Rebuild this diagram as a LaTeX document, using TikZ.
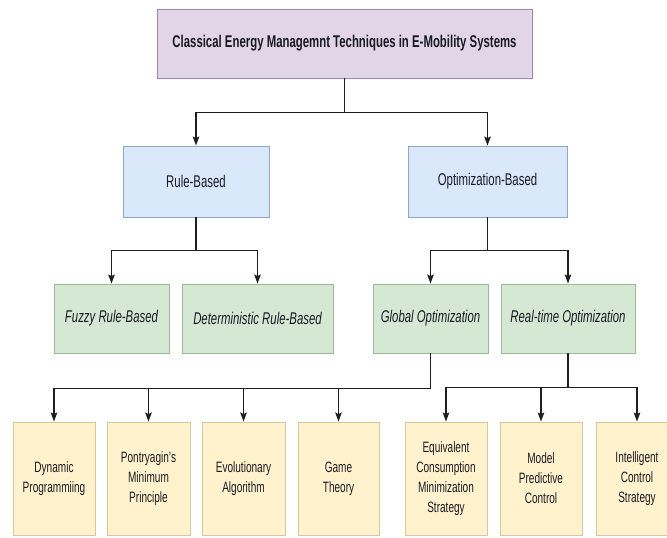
\documentclass[tikz,border=0pt]{standalone}
\usepackage{fontspec}
\setmainfont{Liberation Sans}[FakeStretch=0.67]
\usetikzlibrary{arrows.meta}

\definecolor{purpfill}{HTML}{E1D5E7}
\definecolor{purpline}{HTML}{9A8AA6}
\definecolor{bluefill}{HTML}{DAE8FC}
\definecolor{blueline}{HTML}{8EA6C8}
\definecolor{greenfill}{HTML}{D5E8D4}
\definecolor{greenline}{HTML}{9DB894}
\definecolor{yellfill}{HTML}{FFF2CC}
\definecolor{yellline}{HTML}{D8C79A}
\definecolor{inkc}{HTML}{1E1E1E}
\definecolor{textc}{HTML}{1A1A24}

\begin{document}
\begin{tikzpicture}[x=1pt,y=-1pt,
  box/.style={draw, line width=0.9pt, inner sep=0pt, align=center, text=textc},
  rootbox/.style={box, fill=purpfill, draw=purpline,
    font=\fontsize{17}{20}\selectfont\bfseries},
  catbox/.style={box, fill=bluefill, draw=blueline,
    font=\fontsize{17}{20}\selectfont},
  subbox/.style={box, fill=greenfill, draw=greenline,
    font=\fontsize{17}{20}\selectfont\itshape},
  leafbox/.style={box, fill=yellfill, draw=yellline,
    minimum height=113pt, font=\fontsize{15}{20}\selectfont},
  conn/.style={draw=inkc, line width=1.3pt},
  arr/.style={conn, -{Stealth[length=9pt,width=6.5pt,inset=1.5pt]}}
]
\useasboundingbox (0,0) rectangle (667,538);

% root
\node[rootbox, minimum width=375pt, minimum height=69pt] (root) at (344.5,43.5)
  {Classical Energy Managemnt Techniques in E-Mobility Systems};

% first level
\node[catbox, minimum width=146pt, minimum height=71pt] (rule) at (196,181.5) {Rule-Based};
\node[catbox, minimum width=159pt, minimum height=71pt] (opt) at (487.5,181.5) {Optimization-Based};

% second level
\node[subbox, minimum width=115pt, minimum height=69pt] (fuzzy) at (111.5,318.5) {Fuzzy Rule-Based};
\node[subbox, minimum width=151pt, minimum height=69pt] (det) at (257.5,318.5) {Deterministic Rule-Based};
\node[subbox, minimum width=115pt, minimum height=69pt] (glob) at (430.5,318.5) {Global Optimization};
\node[subbox, minimum width=134pt, minimum height=69pt] (real) at (568,318.5) {Real-time Optimization};

% leaves
\node[leafbox, minimum width=82pt] (dyn) at (54,478.5) {Dynamic\\Programmiing};
\node[leafbox, minimum width=83pt] (pon) at (148.5,478.5) {Pontryagin's\\Minimum\\Principle};
\node[leafbox, minimum width=83pt] (evo) at (243.5,478.5) {Evolutionary\\Algorithm};
\node[leafbox, minimum width=81pt] (game) at (338.5,478.5) {Game\\Theory};
\node[leafbox, minimum width=82pt] (ecms) at (446,478.5) {Equivalent\\Consumption\\Minimization\\Strategy};
\node[leafbox, minimum width=82pt] (mpc) at (541,478.5) {Model\\Predictive\\Control};
\node[leafbox, minimum width=82pt] (ics) at (637,478.5) {Intelligent\\Control\\Strategy};

% connectors: root to categories
\draw[conn] (root.south) -- ++(0,34) coordinate (j0);
\draw[arr] (j0) -| (rule.north);
\draw[arr] (j0) -| (opt.north);

% rule-based branch
\draw[conn] (rule.south) -- ++(0,33) coordinate (j1);
\draw[arr] (j1) -| (fuzzy.north);
\draw[arr] (j1) -| (det.north);

% optimization-based branch
\draw[conn] (opt.south) -- ++(0,33) coordinate (j2);
\draw[arr] (j2) -| (glob.north);
\draw[arr] (j2) -| (real.north);

% global optimization branch
\draw[conn] (glob.south) -- ++(0,35) coordinate (j3);
\draw[arr] (j3) -| (dyn.north);
\draw[arr] (j3) -| (pon.north);
\draw[arr] (j3) -| (evo.north);
\draw[arr] (j3) -| (game.north);

% real-time optimization branch
\draw[conn] (real.south) -- ++(0,34) coordinate (j4);
\draw[arr] (j4) -| (ecms.north);
\draw[arr] (j4) -| (mpc.north);
\draw[arr] (j4) -| (ics.north);
\end{tikzpicture}
\end{document}
